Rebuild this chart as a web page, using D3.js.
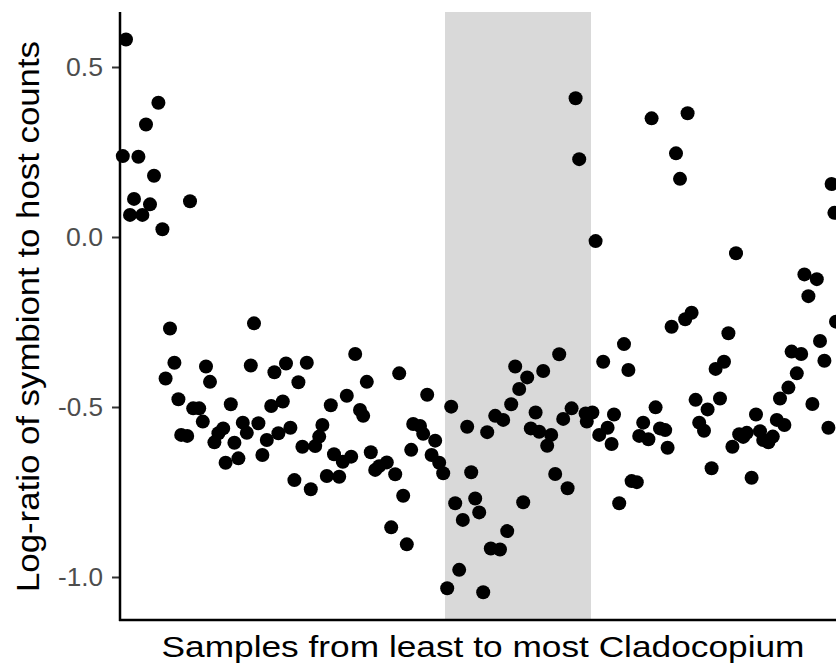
<!DOCTYPE html>
<html lang="en">
<head>
    <meta charset="UTF-8">
    <title>Log-ratio of symbiont to host counts</title>
    <script src="https://d3js.org/d3.v7.min.js"></script>
    <style>
        body { margin: 0; background: #fff; }
        text { font-family: "Liberation Sans", Arial, sans-serif; }
    </style>
</head>
<body>
    <svg id="chart" width="836" height="667"></svg>
    <script>
        // sample rank (least -> most Cladocopium) and log-ratio
        const sampleRank = [
            0.7, 1.5, 2.5, 3.5, 4.6, 5.6, 6.5, 7.5, 8.5, 9.6,
            10.6, 11.4, 12.5, 13.6, 14.6, 15.3, 16.8, 17.5, 18.3, 19.8,
            20.7, 21.5, 22.5, 23.6, 24.6, 25.8, 26.4, 27.7, 28.6, 29.6,
            30.7, 31.7, 32.7, 33.5, 34.6, 35.6, 36.7, 37.8, 38.6, 39.6,
            40.7, 41.5, 42.6, 43.6, 44.6, 45.6, 46.7, 47.7, 48.8, 49.8,
            50.6, 51.7, 52.7, 53.5, 54.8, 55.7, 56.7, 57.8, 58.8, 60.0,
            60.8, 61.7, 62.7, 63.8, 64.8, 66.7, 67.8, 68.8, 69.8, 70.8,
            71.7, 72.8, 73.3, 75.0, 75.8, 76.8, 77.9, 78.8, 79.8, 80.8,
            81.8, 82.8, 83.8, 84.8, 85.7, 86.8, 87.8, 88.8, 89.8, 90.8,
            91.8, 92.7, 93.8, 95.0, 95.8, 96.8, 97.8, 98.8, 99.8, 100.8,
            101.8, 102.7, 103.9, 104.8, 105.8, 106.8, 107.8, 108.8, 109.8, 110.8,
            111.9, 112.9, 113.9, 114.8, 116.4, 116.7, 118.1, 118.9, 119.8, 120.8,
            121.9, 122.9, 123.5, 124.8, 126.0, 127.1, 127.9, 129.2, 129.8, 130.8,
            132.1, 132.9, 133.9, 135.0, 136.3, 136.9, 137.9, 139.0, 140.0, 141.3,
            141.9, 142.9, 143.9, 144.8, 146.0, 146.9, 147.9, 148.9, 150.0, 151.0,
            152.1, 153.1, 154.0, 154.8, 155.8, 156.7, 157.9, 159.0, 160.0, 160.8,
            162.1, 163.2, 164.2, 165.0, 166.1, 167.1, 167.9, 169.2, 170.3, 171.1,
            172.1, 173.1, 174.2, 175.0, 176.1, 177.1, 177.9, 178.6, 179.0
        ];
        const logRatio = [
            0.238, 0.581, 0.065, 0.112, 0.236, 0.065, 0.331, 0.096, 0.180, 0.395,
            0.023, -0.416, -0.269, -0.370, -0.477, -0.582, -0.585, 0.105, -0.504, -0.504,
            -0.543, -0.381, -0.426, -0.604, -0.577, -0.563, -0.664, -0.492, -0.605, -0.651,
            -0.546, -0.576, -0.378, -0.254, -0.548, -0.641, -0.597, -0.497, -0.398, -0.577,
            -0.484, -0.372, -0.561, -0.715, -0.427, -0.617, -0.370, -0.742, -0.615, -0.587,
            -0.553, -0.703, -0.495, -0.639, -0.705, -0.661, -0.467, -0.646, -0.344, -0.509,
            -0.526, -0.426, -0.633, -0.685, -0.674, -0.663, -0.854, -0.698, -0.401, -0.761,
            -0.904, -0.626, -0.550, -0.556, -0.579, -0.464, -0.641, -0.599, -0.664, -0.695,
            -1.033, -0.499, -0.783, -0.979, -0.832, -0.558, -0.692, -0.769, -0.810, -1.045,
            -0.574, -0.916, -0.526, -0.919, -0.538, -0.865, -0.492, -0.381, -0.447, -0.780,
            -0.413, -0.563, -0.516, -0.573, -0.394, -0.614, -0.582, -0.697, -0.345, -0.535,
            -0.739, -0.504, 0.408, 0.229, -0.519, -0.543, -0.516, -0.012, -0.582, -0.367,
            -0.561, -0.609, -0.522, -0.783, -0.315, -0.391, -0.718, -0.721, -0.585, -0.546,
            -0.595, 0.349, -0.501, -0.563, -0.568, -0.620, -0.264, 0.246, 0.171, -0.242,
            0.364, -0.223, -0.479, -0.546, -0.570, -0.507, -0.680, -0.388, -0.475, -0.367,
            -0.283, -0.617, -0.048, -0.580, -0.588, -0.576, -0.708, -0.522, -0.571, -0.597,
            -0.604, -0.587, -0.538, -0.475, -0.553, -0.443, -0.337, -0.401, -0.344, -0.110,
            -0.174, -0.491, -0.124, -0.306, -0.364, -0.561, 0.156, 0.071, -0.249
        ];
        // shaded range of sample ranks
        const highlightRange = [81.25, 117.75];
        const yTicks = [0.5, 0.0, -0.5, -1.0];

        const svg = d3.select("#chart");
        const plotLeft = 120, plotRight = 836, plotTop = 12, plotBottom = 620;

        const x = d3.scaleLinear().domain([0, 179]).range([plotLeft, plotRight]);
        const y = d3.scaleLinear().domain([0, 0.5]).range([237, 67]);

        const points = sampleRank.map((r, i) => ({ r, v: logRatio[i] }));

        // shaded band
        svg.append("rect")
            .attr("x", x(highlightRange[0]))
            .attr("y", plotTop)
            .attr("width", x(highlightRange[1]) - x(highlightRange[0]))
            .attr("height", plotBottom - plotTop)
            .attr("fill", "#d9d9d9");

        svg.append("g")
            .selectAll("circle")
            .data(points)
            .enter().append("circle")
            .attr("cx", d => x(d.r))
            .attr("cy", d => y(d.v))
            .attr("r", 7)
            .attr("fill", "#000");

        // y axis
        const yAxis = svg.append("g")
            .attr("transform", `translate(${plotLeft},0)`)
            .call(d3.axisLeft(y).tickValues(yTicks).tickSize(8).tickPadding(9));
        yAxis.select(".domain").remove();
        yAxis.selectAll(".tick line").attr("stroke", "#333").attr("stroke-width", 2);
        yAxis.selectAll(".tick text")
            .attr("fill", "#4d4d4d")
            .style("font-size", "26px")
            .attr("textLength", d => d < 0 ? 45 : 37)
            .attr("lengthAdjust", "spacingAndGlyphs")
            .text(d => d3.format(".1f")(d).replace("−", "-"));

        svg.append("line")
            .attr("x1", plotLeft).attr("x2", plotLeft)
            .attr("y1", plotTop).attr("y2", plotBottom + 1)
            .attr("stroke", "#000").attr("stroke-width", 2.5);
        svg.append("line")
            .attr("x1", plotLeft - 1).attr("x2", plotRight)
            .attr("y1", plotBottom).attr("y2", plotBottom)
            .attr("stroke", "#000").attr("stroke-width", 2.5);

        // titles
        svg.append("text")
            .attr("x", 483).attr("y", 657)
            .attr("text-anchor", "middle")
            .attr("textLength", 643)
            .attr("lengthAdjust", "spacingAndGlyphs")
            .style("font-size", "29px")
            .text("Samples from least to most Cladocopium");

        svg.append("text")
            .attr("transform", "translate(38.5,316.5) rotate(-90)")
            .attr("text-anchor", "middle")
            .attr("textLength", 551)
            .attr("lengthAdjust", "spacingAndGlyphs")
            .style("font-size", "31px")
            .text("Log-ratio of symbiont to host counts");
    </script>
</body>
</html>
